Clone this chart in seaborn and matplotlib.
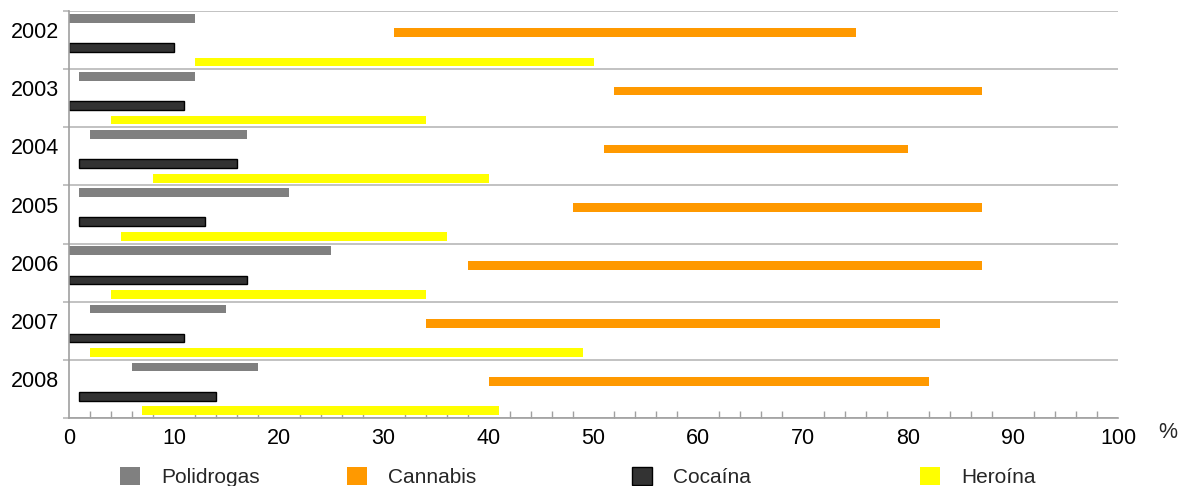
import numpy as np
import pandas as pd
import matplotlib
matplotlib.use("Agg")
import matplotlib.pyplot as plt
import matplotlib.transforms as mtransforms
from matplotlib.patches import Patch
import seaborn as sns

# Ranges (min-max, %) per year and substance
years = ["2002", "2003", "2004", "2005", "2006", "2007", "2008"]
series = ["Polidrogas", "Cannabis", "Cocaína", "Heroína"]

polidrogas_start = [0, 1, 2, 1, 0, 2, 6]
polidrogas_end = [12, 12, 17, 21, 25, 15, 18]
cannabis_start = [31, 52, 51, 48, 38, 34, 40]
cannabis_end = [75, 87, 80, 87, 87, 83, 82]
cocaina_start = [0, 0, 1, 1, 0, 0, 1]
cocaina_end = [10, 11, 16, 13, 17, 11, 14]
heroina_start = [12, 4, 8, 5, 4, 2, 7]
heroina_end = [50, 34, 40, 36, 34, 49, 41]

x_ticks = [0, 10, 20, 30, 40, 50, 60, 70, 80, 90, 100]

starts = {"Polidrogas": polidrogas_start, "Cannabis": cannabis_start,
          "Cocaína": cocaina_start, "Heroína": heroina_start}
ends = {"Polidrogas": polidrogas_end, "Cannabis": cannabis_end,
        "Cocaína": cocaina_end, "Heroína": heroina_end}
colors = {"Polidrogas": "#808080", "Cannabis": "#ff9900",
          "Cocaína": "#333333", "Heroína": "#ffff00"}
edges = {"Polidrogas": "none", "Cannabis": "none",
         "Cocaína": "#000000", "Heroína": "none"}

rows = []
for s in series:
    for y, a, b in zip(years, starts[s], ends[s]):
        rows.append({"year": y, "series": s, "start": a, "end": b})
df = pd.DataFrame(rows)

sns.set_theme(style="white")
plt.rcParams["font.family"] = ["Liberation Sans", "DejaVu Sans"]

DPI = 100
W, H = 1179, 486
fig = plt.figure(figsize=(W / DPI, H / DPI), dpi=DPI)
ax = fig.add_axes([69 / W, 1 - 418 / H, (1118 - 69) / W, (418 - 11) / H])

sns.barplot(data=df, x="end", y="year", hue="series", order=years,
            hue_order=series, palette=colors, orient="h", dodge=True,
            width=1.0, gap=0.4, saturation=1, errorbar=None,
            legend=False, ax=ax)

# turn each bar into a floating range bar [start, end]
for cont, s in zip(ax.containers, series):
    for bar, a, b in zip(cont, starts[s], ends[s]):
        bar.set_x(a)
        bar.set_width(b - a)
        if edges[s] == "none":
            bar.set_linewidth(0)
        else:
            bar.set_edgecolor(edges[s])
            bar.set_linewidth(1.0)

grid_c = "#b8b8b8"
axis_c = "#a0a0a0"

ax.set_xlim(0, 100)
ax.set_ylim(len(years) - 0.5, -0.5)
ax.set_xlabel("")
ax.set_ylabel("")

# x axis
ax.set_xticks(x_ticks)
ax.set_xticklabels([str(t) for t in x_ticks])
ax.set_xticks(np.arange(0, 101, 2), minor=True)
ax.tick_params(axis="x", which="major", direction="inout", length=10,
               width=1, color=axis_c, labelsize=15.5, pad=2, labelcolor="black")
ax.tick_params(axis="x", which="minor", direction="in", length=5,
               width=1, color=axis_c, bottom=True)

# y axis: boundaries as major ticks (grid), years as minor labels
bounds = np.arange(-0.5, len(years), 1.0)
ax.set_yticks(bounds)
ax.set_yticklabels([""] * len(bounds))
ax.set_yticks(np.arange(len(years)), minor=True)
ax.set_yticklabels(years, minor=True)
ax.tick_params(axis="y", which="major", direction="out", length=4.3,
               width=1.2, color=grid_c, left=True)
ax.tick_params(axis="y", which="minor", length=0, pad=7.2,
               labelsize=15.5, labelcolor="black")
ax.yaxis.grid(True, which="major", color=grid_c, linewidth=1.2)
ax.xaxis.grid(False)
ax.set_axisbelow(True)

for side in ["top", "right"]:
    ax.spines[side].set_visible(False)
for side in ["left", "bottom"]:
    ax.spines[side].set_color(axis_c)
    ax.spines[side].set_linewidth(1.2)

fig.canvas.draw()
shift = mtransforms.ScaledTranslation(0, 10 / DPI, fig.dpi_scale_trans)
for tick in ax.yaxis.get_minor_ticks():
    tick.label1.set_transform(tick.label1.get_transform() + shift)

fig.text(1168 / W, 1 - 432 / H, "%", fontsize=15.5, ha="center", va="center")

# legend entries spread along the bottom
fs = 15
fs_px = fs * DPI / 72
legend_x = [120, 347, 632, 920]
for s, lx in zip(series, legend_x):
    handle = Patch(facecolor=colors[s],
                   edgecolor="#000000" if s == "Cocaína" else colors[s],
                   linewidth=1.0 if s == "Cocaína" else 0)
    leg = fig.legend(handles=[handle], labels=[s], loc="center left",
                     bbox_to_anchor=(lx / W, 1 - 477 / H), frameon=False,
                     borderpad=0, borderaxespad=0, fontsize=fs,
                     handlelength=20 / fs_px, handleheight=20 / fs_px,
                     handletextpad=21 / fs_px)

fig.savefig("out.png", dpi=DPI)
